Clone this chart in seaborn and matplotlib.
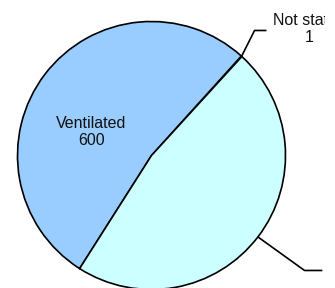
import numpy as np
import matplotlib
matplotlib.use("Agg")
import matplotlib.pyplot as plt
import seaborn as sns

categories = ["Not stated", "Ventilated", "Not ventilated"]
values = [1, 600, 538]
colors = ["#FFFFCC", "#99CCFF", "#CCFFFF"]

sns.set_style("white")
plt.rcParams['font.family'] = ['Liberation Sans', 'DejaVu Sans']

fig = plt.figure(figsize=(3.35, 2.88), dpi=100)
# axes clipped a little short of the right edge, like the original chart area
ax = fig.add_axes([0, 0, 325 / 335, 1])
cx, cy, r = 151.5, 155.5, 134.0
ax.set_xlim(-cx / r, (325 - cx) / r)
ax.set_ylim(-(288 - cy) / r, cy / r)

wedges, _ = ax.pie(values, colors=colors, startangle=47.6, counterclock=True,
                   wedgeprops=dict(edgecolor="black", linewidth=1.2),
                   center=(0, 0), radius=1.0)
ax.set_aspect("auto")
ax.set_xlim(-cx / r, (325 - cx) / r)
ax.set_ylim(-(288 - cy) / r, cy / r)
ax.axis("off")

# Ventilated label inside its slice
ax.text(-0.448, 0.175, f"{categories[1]}\n{values[1]}", ha="center", va="center",
        fontsize=11.5, color="#111111", linespacing=1.15)

# leader lines and outside labels
def mid_angle(w):
    return np.deg2rad((w.theta1 + w.theta2) / 2)

a = mid_angle(wedges[0])
ax.plot([np.cos(a), 0.769, 0.858], [np.sin(a), 0.933, 0.933], color="black", lw=1.2,
        solid_capstyle="butt")
ax.text(1.176, 0.945, f"{categories[0]}\n{values[0]}", ha="center", va="center",
        fontsize=11.5, color="#111111", linespacing=1.15, clip_on=True)

a = mid_angle(wedges[2])
ax.plot([np.cos(a), 1.142, 1.275], [np.sin(a), -0.858, -0.858], color="black", lw=1.2,
        solid_capstyle="butt")
ax.text(1.30, -0.86, f"{categories[2]}\n{values[2]}", ha="left", va="center",
        fontsize=11.5, color="#111111", linespacing=1.15, clip_on=True)

fig.savefig("out.png", dpi=100)
